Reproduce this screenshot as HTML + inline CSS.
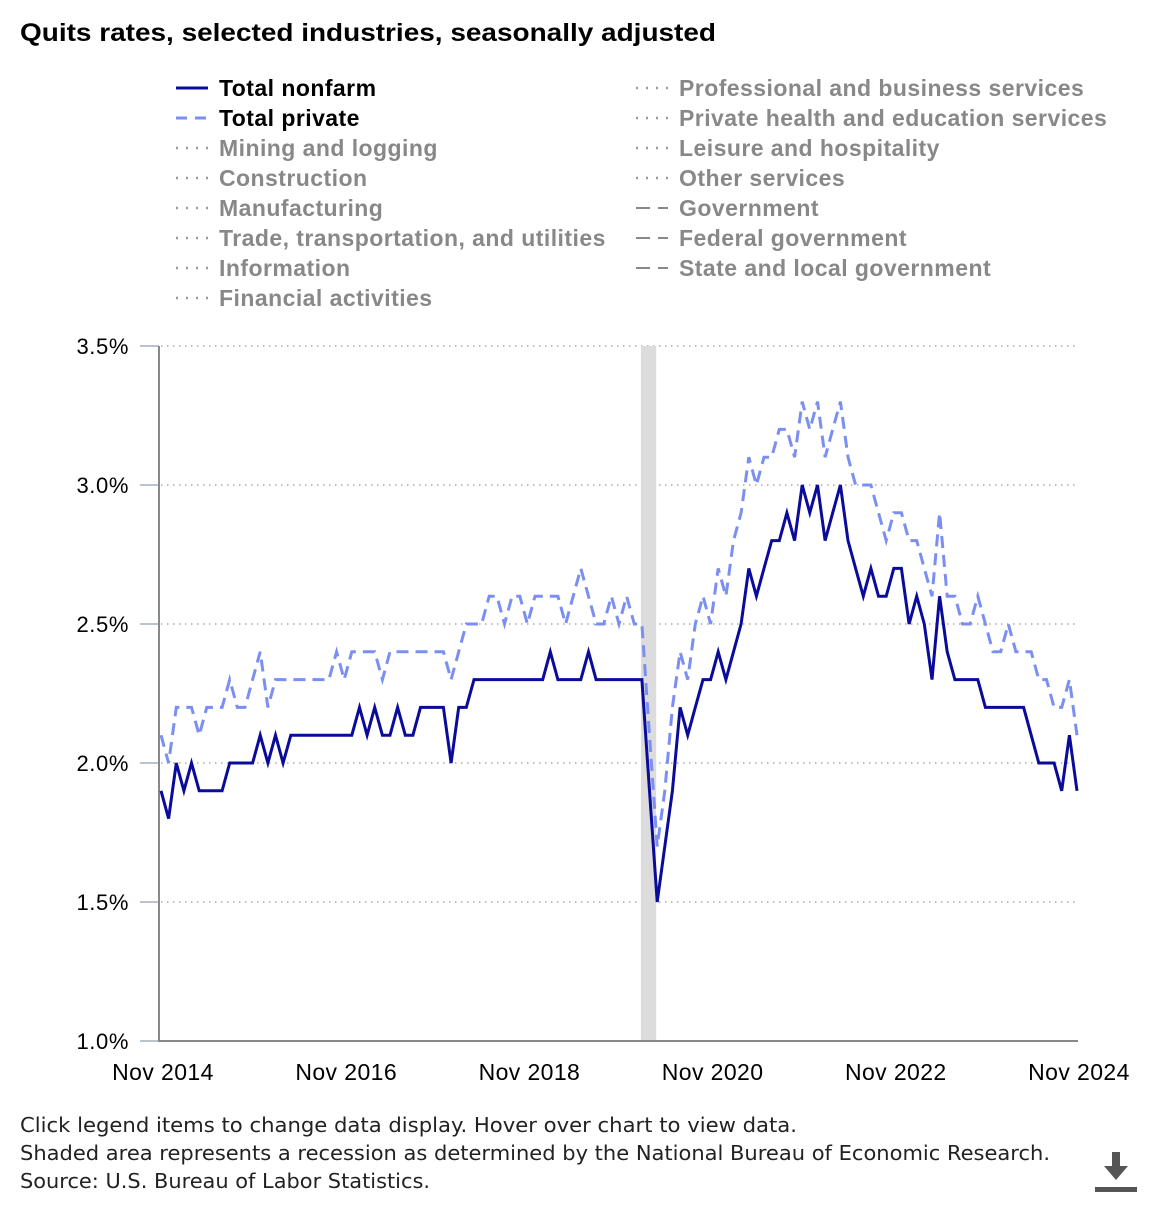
<!DOCTYPE html>
<html><head><meta charset="utf-8"><style>
body{margin:0;background:#fff;width:1160px;height:1200px;overflow:hidden;font-family:"Liberation Sans",Arial,sans-serif}
</style></head><body>
<svg width="1160" height="1200" viewBox="0 0 1160 1200" font-family="Liberation Sans, Arial, sans-serif">
<text x="20" y="41" font-size="25" font-weight="bold" fill="#000" textLength="696" lengthAdjust="spacingAndGlyphs">Quits rates, selected industries, seasonally adjusted</text>
<g id="legend"></g>
<g id="grid"></g>
<rect id="recession" fill="#dcdcdc"></rect>
<g id="axes"></g>
<g id="series"></g>
<g font-family="DejaVu Sans, sans-serif" font-size="20" fill="#222">
<text x="20" y="1132" textLength="777" lengthAdjust="spacingAndGlyphs">Click legend items to change data display. Hover over chart to view data.</text>
<text x="20" y="1160" textLength="1030" lengthAdjust="spacingAndGlyphs">Shaded area represents a recession as determined by the National Bureau of Economic Research.</text>
<text x="20" y="1188" textLength="410" lengthAdjust="spacingAndGlyphs">Source: U.S. Bureau of Labor Statistics.</text>
</g>
<g fill="#555">
<rect x="1112" y="1152" width="8" height="16"/>
<polygon points="1104,1166 1128,1166 1116,1180"/>
<rect x="1095" y="1187" width="42" height="5"/>
</g>
</svg>
<script>
const nonfarm=[1.9,1.8,2.0,1.9,2.0,1.9,1.9,1.9,1.9,2.0,
2.0,2.0,2.0,2.1,2.0,2.1,2.0,2.1,2.1,2.1,
2.1,2.1,2.1,2.1,2.1,2.1,2.2,2.1,2.2,2.1,
2.1,2.2,2.1,2.1,2.2,2.2,2.2,2.2,2.0,2.2,
2.2,2.3,2.3,2.3,2.3,2.3,2.3,2.3,2.3,2.3,
2.3,2.4,2.3,2.3,2.3,2.3,2.4,2.3,2.3,2.3,
2.3,2.3,2.3,2.3,1.9,1.5,1.7,1.9,2.2,2.1,
2.2,2.3,2.3,2.4,2.3,2.4,2.5,2.7,2.6,2.7,
2.8,2.8,2.9,2.8,3.0,2.9,3.0,2.8,2.9,3.0,
2.8,2.7,2.6,2.7,2.6,2.6,2.7,2.7,2.5,2.6,
2.5,2.3,2.6,2.4,2.3,2.3,2.3,2.3,2.2,2.2,
2.2,2.2,2.2,2.2,2.1,2.0,2.0,2.0,1.9,2.1,
1.9];
const privateRate=[2.1,2.0,2.2,2.2,2.2,2.1,2.2,2.2,2.2,2.3,
2.2,2.2,2.3,2.4,2.2,2.3,2.3,2.3,2.3,2.3,
2.3,2.3,2.3,2.4,2.3,2.4,2.4,2.4,2.4,2.3,
2.4,2.4,2.4,2.4,2.4,2.4,2.4,2.4,2.3,2.4,
2.5,2.5,2.5,2.6,2.6,2.5,2.6,2.6,2.5,2.6,
2.6,2.6,2.6,2.5,2.6,2.7,2.6,2.5,2.5,2.6,
2.5,2.6,2.5,2.5,2.1,1.7,1.9,2.2,2.4,2.3,
2.5,2.6,2.5,2.7,2.6,2.8,2.9,3.1,3.0,3.1,
3.1,3.2,3.2,3.1,3.3,3.2,3.3,3.1,3.2,3.3,
3.1,3.0,3.0,3.0,2.9,2.8,2.9,2.9,2.8,2.8,
2.7,2.6,2.9,2.6,2.6,2.5,2.5,2.6,2.5,2.4,
2.4,2.5,2.4,2.4,2.4,2.3,2.3,2.2,2.2,2.3,
2.1];
const yTicks=[1.0,1.5,2.0,2.5,3.0,3.5];
const yTickLabels=["1.0%","1.5%","2.0%","2.5%","3.0%","3.5%"];
const xTickMonths=[0,24,48,72,96,120];
const xTickLabels=["Nov 2014","Nov 2016","Nov 2018","Nov 2020","Nov 2022","Nov 2024"];
const recessionMonths=[63,65];
const legendLeft=["Total nonfarm","Total private","Mining and logging","Construction","Manufacturing","Trade, transportation, and utilities","Information","Financial activities"];
const legendRight=["Professional and business services","Private health and education services","Leisure and hospitality","Other services","Government","Federal government","State and local government"];

const NS="http://www.w3.org/2000/svg";
const X0=161,X1=1077,Y0=1041,Y1=346;
const xs=i=>X0+(X1-X0)*i/120;
const ys=v=>Y0-(v-1.0)/(3.5-1.0)*(Y0-Y1);
function mk(tag,attrs,parent){const e=document.createElementNS(NS,tag);for(const k in attrs)e.setAttribute(k,attrs[k]);parent.appendChild(e);return e;}

const grid=document.getElementById('grid'),axes=document.getElementById('axes'),series=document.getElementById('series'),legend=document.getElementById('legend');
yTicks.forEach((v,k)=>{
  const y=ys(v);
  if(k>0){const g=mk('line',{x1:161,x2:1077,y1:y,y2:y,stroke:'#aaa','stroke-width':1.5,'stroke-dasharray':'1.5,4.5'},grid);
  
  }
  const t=mk('line',{x1:140,x2:159,y1:y,y2:y,stroke:'#b8c4d4','stroke-width':2},axes);
  
  
  const l=mk('text',{x:129,y:y+8,'font-size':22,'letter-spacing':0.6,'text-anchor':'end',fill:'#000'},axes);
  l.textContent=yTickLabels[k];
  
  
});
xTickMonths.forEach((m,k)=>{
  const l=mk('text',{x:xs(m)+2,y:1080,'font-size':23,'letter-spacing':0.4,'text-anchor':'middle',fill:'#000'},axes);
  l.textContent=xTickLabels[k];
  
  
});
const ya=mk('line',{x1:159,x2:159,y1:346,y2:1042,stroke:'#888','stroke-width':2},axes);


const xa=mk('line',{x1:158,x2:1078,y1:1041,y2:1041,stroke:'#888','stroke-width':2},axes);


const rec=document.getElementById('recession');
rec.setAttribute('x',xs(recessionMonths[0])-1);rec.setAttribute('width',xs(recessionMonths[1])-xs(recessionMonths[0]));
rec.setAttribute('y',346);rec.setAttribute('height',695);

function pts(arr){return arr.map((v,i)=>xs(i).toFixed(1)+','+ys(v).toFixed(1)).join(' ');}
const pl=mk('polyline',{points:pts(privateRate),fill:'none',stroke:'#7b8ff2','stroke-width':3,'stroke-dasharray':'12,7','stroke-linejoin':'miter'},series);


const nl=mk('polyline',{points:pts(nonfarm),fill:'none',stroke:'#0b0b9a','stroke-width':3,'stroke-linejoin':'miter'},series);



function legendItem(label,k,sx,tx,row){
  const y=88+row*30;
  const g=mk('g',{},legend);
  
  
  let stroke='#999',dash='2,8',w=2.5,col='#888';
  if(label==='Total nonfarm'){stroke='#0b0b9a';dash='none';w=3;col='#000';}
  else if(label==='Total private'){stroke='#7b8ff2';dash='11,8';w=3;col='#000';}
  else if(label.indexOf('overnment')>=0){dash='14,8';stroke='#888';w=2;}
  mk('line',{x1:sx,x2:sx+32,y1:y,y2:y,stroke:stroke,'stroke-width':w,'stroke-dasharray':dash},g);
  const t=mk('text',{x:tx,y:y+8,'font-size':23,'letter-spacing':0.45,'font-weight':'bold',fill:col},g);
  t.textContent=label;
}
legendLeft.forEach((l,k)=>legendItem(l,k,176,219,k));
legendRight.forEach((l,k)=>legendItem(l,k,636,679,k));
</script>
</body></html>
